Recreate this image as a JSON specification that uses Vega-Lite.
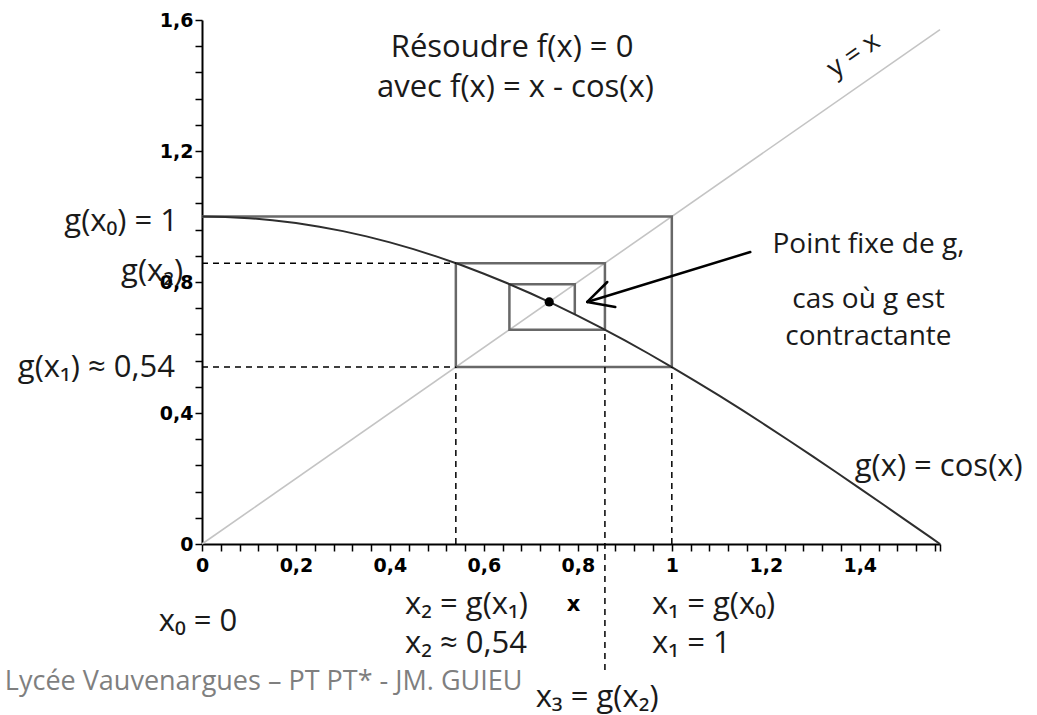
{
  "$schema": "https://vega.github.io/schema/vega-lite/v6.json",
  "width": 738,
  "height": 524,
  "autosize": "none",
  "padding": {"left": 202, "top": 20, "right": 97, "bottom": 171},
  "background": "white",
  "config": {
    "view": {"stroke": null},
    "axis": {
      "grid": false,
      "domainColor": "black",
      "domainWidth": 2,
      "tickColor": "black",
      "tickWidth": 1.5,
      "tickSize": 7,
      "labelFont": "DejaVu Sans",
      "labelFontWeight": "bold",
      "labelFontSize": 19,
      "labelColor": "black",
      "labelOverlap": false,
      "labelFlush": false
    }
  },
  "datasets": {
    "cosinus": [
      {"x": 0, "y": 1}, {"x": 0.05, "y": 0.99875}, {"x": 0.1, "y": 0.995}, {"x": 0.15, "y": 0.98877},
      {"x": 0.2, "y": 0.98007}, {"x": 0.25, "y": 0.96891}, {"x": 0.3, "y": 0.95534}, {"x": 0.35, "y": 0.93937},
      {"x": 0.4, "y": 0.92106}, {"x": 0.45, "y": 0.90045}, {"x": 0.5, "y": 0.87758}, {"x": 0.55, "y": 0.85252},
      {"x": 0.6, "y": 0.82534}, {"x": 0.65, "y": 0.79608}, {"x": 0.7, "y": 0.76484}, {"x": 0.75, "y": 0.73169},
      {"x": 0.8, "y": 0.69671}, {"x": 0.85, "y": 0.65998}, {"x": 0.9, "y": 0.62161}, {"x": 0.95, "y": 0.58168},
      {"x": 1.0, "y": 0.5403}, {"x": 1.05, "y": 0.49757}, {"x": 1.1, "y": 0.4536}, {"x": 1.15, "y": 0.40849},
      {"x": 1.2, "y": 0.36236}, {"x": 1.25, "y": 0.31532}, {"x": 1.3, "y": 0.2675}, {"x": 1.35, "y": 0.21901},
      {"x": 1.4, "y": 0.16997}, {"x": 1.45, "y": 0.1205}, {"x": 1.5, "y": 0.07074}, {"x": 1.55, "y": 0.02079},
      {"x": 1.5708, "y": 0}
    ],
    "bissectrice": [{"x": 0, "y": 0}, {"x": 1.5708, "y": 1.5708}],
    "escalier": [
      {"i": 0, "x": 0, "y": 1}, {"i": 1, "x": 1, "y": 1}, {"i": 2, "x": 1, "y": 0.5403},
      {"i": 3, "x": 0.5403, "y": 0.5403}, {"i": 4, "x": 0.5403, "y": 0.8576}, {"i": 5, "x": 0.8576, "y": 0.8576},
      {"i": 6, "x": 0.8576, "y": 0.6543}, {"i": 7, "x": 0.6543, "y": 0.6543}, {"i": 8, "x": 0.6543, "y": 0.7935},
      {"i": 9, "x": 0.7935, "y": 0.7935}, {"i": 10, "x": 0.7935, "y": 0.7014}
    ],
    "pointilles": [
      {"x": 0, "y": 0.8576, "x2": 0.5403, "y2": 0.8576},
      {"x": 0, "y": 0.5403, "x2": 0.5403, "y2": 0.5403},
      {"x": 0.5403, "y": 0, "x2": 0.5403, "y2": 0.5403},
      {"x": 1, "y": 0, "x2": 1, "y2": 0.5403},
      {"x": 0.8576, "y": -0.385, "x2": 0.8576, "y2": 0.6543}
    ],
    "fleche": [
      {"x": 1.167, "y": 0.8916, "x2": 0.82, "y2": 0.739},
      {"x": 0.82, "y": 0.739, "x2": 0.8626, "y2": 0.8},
      {"x": 0.82, "y": 0.739, "x2": 0.8797, "y2": 0.7237}
    ],
    "pointFixe": [{"x": 0.739, "y": 0.739}],
    "textesDroite": [
      {"x": -0.051, "y": 0.983, "label": "g(x₀) = 1"},
      {"x": -0.04, "y": 0.831, "label": "g(x₂)"},
      {"x": -0.0575, "y": 0.537, "label": "g(x₁) ≈ 0,54"}
    ],
    "textesCentre": [
      {"x": 0.66, "y": 1.515, "label": "Résoudre f(x) = 0"},
      {"x": 0.667, "y": 1.392, "label": "avec f(x) = x - cos(x)"},
      {"x": 1.568, "y": 0.235, "label": "g(x) = cos(x)"},
      {"x": -0.0085, "y": -0.238, "label": "x₀ = 0"},
      {"x": 0.841, "y": -0.47, "label": "x₃ = g(x₂)"}
    ],
    "pointFixeNote": [
      {"x": 1.4185, "y": 0.913, "label": "Point fixe de g,"},
      {"x": 1.4185, "y": 0.745, "label": "cas où g est"},
      {"x": 1.4185, "y": 0.632, "label": "contractante"}
    ],
    "textesGauche": [
      {"x": 0.432, "y": -0.186, "label": "x₂ = g(x₁)"},
      {"x": 0.432, "y": -0.305, "label": "x₂ ≈ 0,54"},
      {"x": 0.958, "y": -0.186, "label": "x₁ = g(x₀)"},
      {"x": 0.958, "y": -0.305, "label": "x₁ = 1"}
    ],
    "bissectriceNom": [{"x": 1.387, "y": 1.493, "label": "y = x"}],
    "pied": [{"x": -0.4196, "y": -0.422, "label": "Lycée Vauvenargues – PT PT* - JM. GUIEU"}]
  },
  "encoding": {
    "x": {
      "field": "x",
      "type": "quantitative",
      "scale": {"domain": [0, 1.5708], "nice": false, "zero": false},
      "axis": {
        "title": "x",
        "titleFont": "DejaVu Sans",
        "titleFontWeight": "bold",
        "titleFontSize": 21,
        "titleColor": "black",
        "titleX": 371,
        "titleY": 60,
        "titleBaseline": "middle",
        "labelPadding": 5,
        "values": [0, 0.04, 0.08, 0.12, 0.16, 0.2, 0.24, 0.28, 0.32, 0.36, 0.4, 0.44, 0.48, 0.52, 0.56, 0.6, 0.64, 0.68, 0.72, 0.76, 0.8, 0.84, 0.88, 0.92, 0.96, 1, 1.04, 1.08, 1.12, 1.16, 1.2, 1.24, 1.28, 1.32, 1.36, 1.4, 1.44, 1.48, 1.52, 1.56, 1.5708],
        "labelExpr": "abs(datum.value * 5 - round(datum.value * 5)) < 0.001 ? replace(format(datum.value, '.1~f'), '.', ',') : ''"
      }
    },
    "y": {
      "field": "y",
      "type": "quantitative",
      "scale": {"domain": [0, 1.6], "nice": false, "zero": false},
      "axis": {
        "title": null,
        "labelPadding": 2,
        "values": [0, 0.08, 0.16, 0.24, 0.32, 0.4, 0.48, 0.56, 0.64, 0.72, 0.8, 0.88, 0.96, 1.04, 1.12, 1.2, 1.28, 1.36, 1.44, 1.52, 1.6],
        "labelExpr": "abs(datum.value / 0.4 - round(datum.value / 0.4)) < 0.001 ? replace(format(datum.value, '.1~f'), '.', ',') : ''"
      }
    }
  },
  "layer": [
    {
      "data": {"name": "bissectrice"},
      "mark": {"type": "line", "color": "#c4c4c4", "strokeWidth": 1.6}
    },
    {
      "data": {"name": "escalier"},
      "mark": {"type": "line", "color": "#686868", "strokeWidth": 2.5},
      "encoding": {"order": {"field": "i", "type": "quantitative"}}
    },
    {
      "data": {"name": "cosinus"},
      "mark": {"type": "line", "color": "#2e2e2e", "strokeWidth": 2}
    },
    {
      "data": {"name": "pointilles"},
      "mark": {"type": "rule", "color": "black", "strokeWidth": 1.5, "strokeDash": [6, 5]},
      "encoding": {"x2": {"field": "x2"}, "y2": {"field": "y2"}}
    },
    {
      "data": {"name": "fleche"},
      "mark": {"type": "rule", "color": "black", "strokeWidth": 2.5, "strokeCap": "round"},
      "encoding": {"x2": {"field": "x2"}, "y2": {"field": "y2"}}
    },
    {
      "data": {"name": "pointFixe"},
      "mark": {"type": "point", "filled": true, "color": "black", "size": 85, "opacity": 1}
    },
    {
      "data": {"name": "textesDroite"},
      "mark": {"type": "text", "align": "right", "baseline": "middle", "font": "Open Sans, DejaVu Sans", "fontSize": 31, "color": "#1a1a1a"},
      "encoding": {"text": {"field": "label"}}
    },
    {
      "data": {"name": "textesCentre"},
      "mark": {"type": "text", "align": "center", "baseline": "middle", "font": "Open Sans, DejaVu Sans", "fontSize": 31, "color": "#1a1a1a"},
      "encoding": {"text": {"field": "label"}}
    },
    {
      "data": {"name": "pointFixeNote"},
      "mark": {"type": "text", "align": "center", "baseline": "middle", "font": "Open Sans, DejaVu Sans", "fontSize": 28, "color": "#1a1a1a"},
      "encoding": {"text": {"field": "label"}}
    },
    {
      "data": {"name": "textesGauche"},
      "mark": {"type": "text", "align": "left", "baseline": "middle", "font": "Open Sans, DejaVu Sans", "fontSize": 31, "color": "#1a1a1a"},
      "encoding": {"text": {"field": "label"}}
    },
    {
      "data": {"name": "bissectriceNom"},
      "mark": {"type": "text", "align": "center", "baseline": "middle", "angle": -35, "font": "Open Sans, DejaVu Sans", "fontSize": 27, "color": "#1a1a1a"},
      "encoding": {"text": {"field": "label"}}
    },
    {
      "data": {"name": "pied"},
      "mark": {"type": "text", "align": "left", "baseline": "middle", "font": "Open Sans, DejaVu Sans", "fontSize": 27, "color": "#7f7f7f"},
      "encoding": {"text": {"field": "label"}}
    }
  ]
}
